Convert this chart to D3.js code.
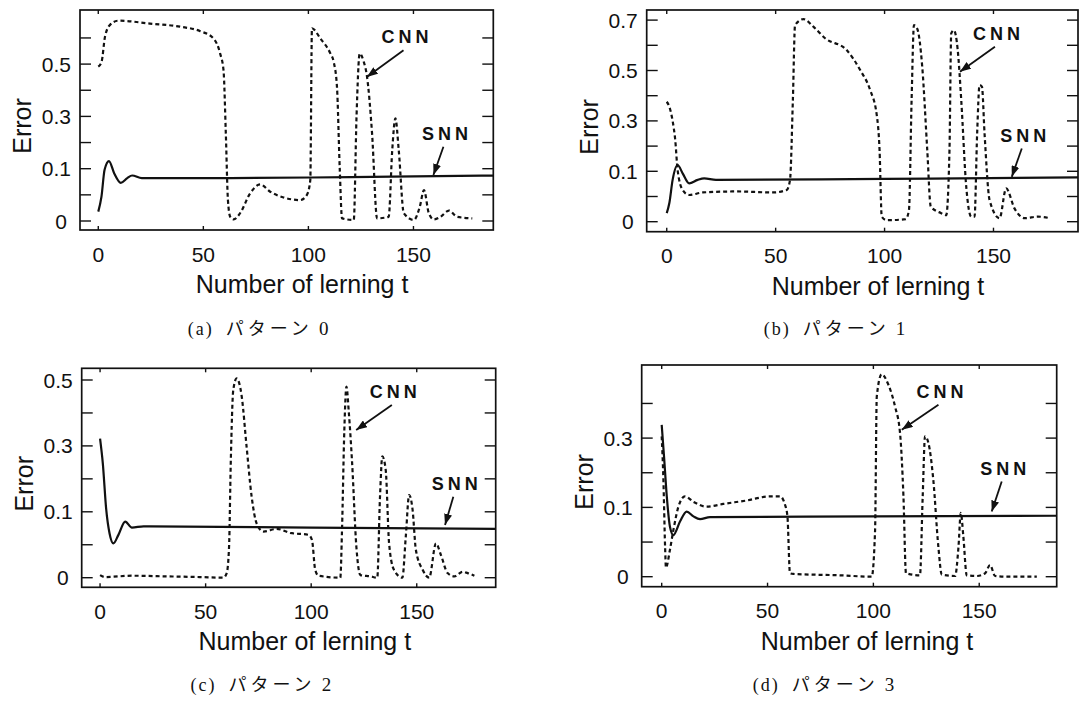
<!DOCTYPE html>
<html>
<head>
<meta charset="utf-8">
<script src="https://cdn.jsdelivr.net/npm/d3@7"></script>
<style>
  html, body { margin: 0; padding: 0; background: #fff; }
  svg { display: block; }
</style>
</head>
<body>
<svg id="chart" width="1081" height="701"></svg>
<script>
// Learning error vs. number of learning steps t for four patterns:
// conventional network (CNN, dotted) and proposed network (SNN, solid).

const xTicks = [0, 50, 100, 150];
// the error axis is evenly spaced in these break values
const yBreaks = [0, 0.1, 0.3, 0.5, 0.7];

const yLabelsA = [0, 0.1, 0.3, 0.5];
const yLabelsB = [0, 0.1, 0.3, 0.5, 0.7];
const yLabelsC = [0, 0.1, 0.3, 0.5];
const yLabelsD = [0, 0.1, 0.3];
const yMinorAB = [0.05, 0.2, 0.4, 0.6];
const yMinorCD = [0.05, 0.2, 0.4];

// pattern 0
const cnnA = [[0,0.49],[1.6,0.51],[3.2,0.605],[5.6,0.65],[9.5,0.666],[24.6,0.655],[38.9,0.643],[48.5,0.626],
  [54.8,0.598],[58,0.54],[59.6,0.477],[60.7,0.235],[61.7,0.04],[62.8,0.008],[64.4,0.003],[67.5,0.015],
  [72.3,0.053],[77.1,0.07],[81.8,0.056],[88.2,0.045],[96.1,0.04],[99.3,0.05],[100.9,0.078],[101.7,0.637],
  [105.7,0.598],[110.5,0.54],[112,0.51],[113.6,0.413],[114.9,0.104],[116,0.005],[121.6,0.002],[122.9,0.298],
  [124.4,0.54],[126.3,0.51],[127.9,0.452],[130.3,0.235],[132.7,0.005],[138.2,0.008],[139.9,0.171],
  [141.4,0.293],[143,0.171],[145.4,0.015],[150.2,0.002],[153,0.027],[155,0.059],[157.3,0.015],[159.7,0.003],
  [162.9,0.008],[166.9,0.02],[170.8,0.008],[178,0.005]];
const snnA = [[0,0.018],[1.5,0.046],[3,0.098],[5.1,0.129],[7.6,0.091],[10.7,0.073],[13.8,0.082],[16.1,0.087],
  [20.7,0.082],[60,0.082],[120,0.084],[190,0.087]];

// pattern 1
const cnnB = [[0,0.376],[1.2,0.356],[2.7,0.3],[3.9,0.224],[5,0.104],[7.3,0.063],[10.3,0.053],[16.5,0.058],
  [31.7,0.06],[49,0.058],[55.1,0.063],[56.6,0.083],[57.9,0.382],[58.9,0.68],[62.8,0.704],[67.3,0.674],
  [72.7,0.628],[82.7,0.58],[88.8,0.502],[93.4,0.422],[96.4,0.324],[97.7,0.184],[98.7,0.01],[101,0.003],
  [109.7,0.005],[111.2,0.023],[112.4,0.38],[113.5,0.68],[115,0.666],[117.3,0.514],[119.6,0.184],[121.2,0.03],
  [126,0.017],[128.3,0.013],[129.8,0.184],[130.6,0.647],[131.8,0.66],[133.6,0.58],[135.2,0.382],[137.5,0.069],
  [139.8,0.01],[141.3,0.01],[142.5,0.25],[143.6,0.442],[144.7,0.436],[145.9,0.25],[148.2,0.043],[152.8,0.007],
  [155.8,0.066],[159.7,0.026],[164.3,0.007],[170.4,0.01],[176,0.007]];
const snnB = [[0,0.017],[1.2,0.037],[2.7,0.083],[5,0.125],[7.3,0.096],[10.3,0.076],[14.2,0.083],[17.2,0.086],
  [22.6,0.083],[100,0.085],[190,0.088]];

// pattern 2
const cnnC = [[0,0.004],[2.3,0.001],[15.1,0.003],[31.3,0.002],[47.2,0.001],[58.4,0],[60,0.007],[61.1,0.047],
  [61.9,0.247],[63.1,0.47],[64.7,0.505],[67.1,0.45],[69.4,0.298],[71.8,0.146],[74.2,0.082],[77.4,0.07],
  [83.7,0.074],[90,0.068],[98.8,0.065],[100.4,0.057],[101.9,0.012],[103.5,0.003],[113.8,0],[114.6,0.072],
  [115.7,0.348],[116.7,0.48],[117.8,0.404],[119.4,0.247],[121.4,0.047],[123.3,0.004],[128.1,0.002],[131.3,0],
  [132.6,0.146],[133.7,0.268],[135.3,0.227],[136.9,0.052],[139.2,0.012],[143.2,0],[144.8,0.062],[146.4,0.151],
  [148,0.108],[149.6,0.042],[152.8,0.012],[155.9,0],[159.1,0.052],[161.5,0.034],[164.6,0.007],[167.8,0.002],
  [171.8,0.009],[174.1,0.007],[177.3,0.003]];
const snnC = [[0,0.322],[1.3,0.247],[2.9,0.108],[4.5,0.067],[6.3,0.052],[8.7,0.065],[11.9,0.085],[15.1,0.076],
  [20.6,0.078],[100,0.076],[190,0.074]];

// pattern 3
const cnnD = [[0,0.305],[0.8,0.18],[1.6,0.043],[2,0.013],[3.9,0.039],[5.5,0.067],[7.9,0.102],[11,0.132],
  [15,0.116],[21.3,0.102],[29.1,0.11],[40.2,0.12],[51.2,0.132],[55.9,0.132],[58.3,0.107],[59.4,0.087],
  [60.6,0.005],[62.2,0.004],[84.3,0.002],[99.2,0],[100.8,0.067],[101.6,0.42],[103.9,0.484],[107.1,0.454],
  [110.2,0.392],[112.6,0.314],[114.2,0.132],[115.4,0.005],[122,0.002],[123.3,0.132],[124.4,0.305],
  [126,0.286],[128.3,0.18],[130.7,0.043],[132.3,0.003],[138.6,0.001],[140.2,0.043],[141.3,0.092],
  [142.5,0.058],[144.1,0.002],[148.8,0.001],[152.8,0.005],[155.1,0.017],[157.5,0.001],[163,0],[177.2,0]];
const snnD = [[0,0.338],[1.1,0.247],[2.4,0.132],[3.9,0.072],[5.5,0.06],[8.7,0.08],[11.8,0.094],[15,0.087],
  [18.1,0.083],[22.8,0.086],[100,0.087],[190,0.088]];

// arrow callouts: tip in data units, tail offset in px
const notesA = [{label: "CNN", tip: [127.8, 0.451], tail: [36.7, -26.7]},
                {label: "SNN", tip: [159.5, 0.088], tail: [10, -28.3]}];
const notesB = [{label: "CNN", tip: [134.6, 0.495], tail: [35, -25]},
                {label: "SNN", tip: [158.4, 0.089], tail: [10, -28.3]}];
const notesC = [{label: "CNN", tip: [121.3, 0.348], tail: [35.7, -25]},
                {label: "SNN", tip: [163.4, 0.080], tail: [8.3, -28.3]}];
const notesD = [{label: "CNN", tip: [113.4, 0.324], tail: [36.7, -25]},
                {label: "SNN", tip: [155.9, 0.094], tail: [10, -30]}];

const panels = [
  {caption: ["(a)", "パターン", "0"], cnn: cnnA, snn: snnA, yLabels: yLabelsA, yMinor: yMinorAB, notes: notesA,
   xDomain: [-8.7, 188.0], box: {left: 80, right: 493.3, top: 10, bottom: 230}, y0: 221, step: 52.3, capY: 335},
  {caption: ["(b)", "パターン", "1"], cnn: cnnB, snn: snnB, yLabels: yLabelsB, yMinor: yMinorAB, notes: notesB,
   xDomain: [-9.2, 188.8], box: {left: 646.7, right: 1078, top: 10, bottom: 231.7}, y0: 221.7, step: 50.4, capY: 335},
  {caption: ["(c)", "パターン", "2"], cnn: cnnC, snn: snnC, yLabels: yLabelsC, yMinor: yMinorCD, notes: notesC,
   xDomain: [-8.7, 187.4], box: {left: 81.7, right: 495.7, top: 368.3, bottom: 587.3}, y0: 577.7, step: 65.9, capY: 691},
  {caption: ["(d)", "パターン", "3"], cnn: cnnD, snn: snnD, yLabels: yLabelsD, yMinor: yMinorCD, notes: notesD,
   xDomain: [-9.45, 186.6], box: {left: 641.7, right: 1056.7, top: 365, bottom: 586.7}, y0: 576.7, step: 69.3, capY: 691}
];

const INK = "#111";
const SANS = '"Liberation Sans", Arial, Helvetica, sans-serif';
const SERIF = '"Liberation Serif", "DejaVu Serif", serif';
const CJK = '"Noto Sans CJK JP", sans-serif';

const svg = d3.select("#chart");
const defs = svg.append("defs");

defs.append("marker")
  .attr("id", "arrowhead")
  .attr("viewBox", "0 0 11 8")
  .attr("refX", 11).attr("refY", 4)
  .attr("markerWidth", 11).attr("markerHeight", 8)
  .attr("markerUnits", "userSpaceOnUse")
  .attr("orient", "auto")
  .append("path").attr("d", "M0,0L11,4L0,8Z").attr("fill", INK);

const fmt = d => (d === 0 ? "0" : d3.format(".1f")(d));

panels.forEach((p, i) => {
  const b = p.box;
  const x = d3.scaleLinear().domain(p.xDomain).range([b.left, b.right]);
  const y = d3.scaleLinear().domain(yBreaks).range(yBreaks.map((_, k) => p.y0 - k * p.step));
  const g = svg.append("g");

  defs.append("clipPath").attr("id", "plot" + i)
    .append("rect").attr("x", b.left).attr("y", b.top)
    .attr("width", b.right - b.left).attr("height", b.bottom - b.top);

  // inward y tick marks on both sides
  const yAll = p.yLabels.concat(p.yMinor);
  g.selectAll(null).data(yAll).join("line")
    .attr("x1", b.left).attr("x2", b.left + 11)
    .attr("y1", d => y(d)).attr("y2", d => y(d))
    .attr("stroke", INK).attr("stroke-width", 1.4);
  g.selectAll(null).data(yAll).join("line")
    .attr("x1", b.right - 11).attr("x2", b.right)
    .attr("y1", d => y(d)).attr("y2", d => y(d))
    .attr("stroke", INK).attr("stroke-width", 1.4);
  g.selectAll(null).data(p.yLabels).join("text")
    .attr("x", b.left - 9).attr("y", d => y(d))
    .attr("dx", d => (d === 0 ? -4 : 0)).attr("dy", "0.36em")
    .attr("text-anchor", "end").attr("fill", INK)
    .style("font-family", SANS).style("font-size", "21px")
    .text(fmt);

  // short inward x tick marks at top and bottom, labels below
  g.selectAll(null).data(xTicks).join("line")
    .attr("x1", d => x(d)).attr("x2", d => x(d))
    .attr("y1", b.bottom).attr("y2", b.bottom - 4)
    .attr("stroke", INK).attr("stroke-width", 1.4);
  g.selectAll(null).data(xTicks).join("line")
    .attr("x1", d => x(d)).attr("x2", d => x(d))
    .attr("y1", b.top).attr("y2", b.top + 4)
    .attr("stroke", INK).attr("stroke-width", 1.4);
  g.selectAll(null).data(xTicks).join("text")
    .attr("x", d => x(d)).attr("y", b.bottom + 31.5)
    .attr("text-anchor", "middle").attr("fill", INK)
    .style("font-family", SANS).style("font-size", "21px")
    .text(d => d);

  // frame
  g.append("rect")
    .attr("x", b.left).attr("y", b.top)
    .attr("width", b.right - b.left).attr("height", b.bottom - b.top)
    .attr("fill", "none").attr("stroke", INK).attr("stroke-width", 1.7);

  const line = d3.line().x(d => x(d[0])).y(d => y(d[1])).curve(d3.curveMonotoneX);
  const plot = g.append("g").attr("clip-path", `url(#plot${i})`);

  plot.append("path").datum(p.snn)
    .attr("d", line).attr("fill", "none")
    .attr("stroke", INK).attr("stroke-width", 2.2).attr("stroke-linejoin", "round");
  plot.append("path").datum(p.cnn)
    .attr("d", line).attr("fill", "none")
    .attr("stroke", INK).attr("stroke-width", 2.2).attr("stroke-dasharray", "4,3");

  // callouts
  p.notes.forEach(n => {
    const tx = x(n.tip[0]), ty = y(n.tip[1]);
    const sx = tx + n.tail[0], sy = ty + n.tail[1];
    g.append("line")
      .attr("x1", sx).attr("y1", sy).attr("x2", tx).attr("y2", ty)
      .attr("stroke", INK).attr("stroke-width", 1.8)
      .attr("marker-end", "url(#arrowhead)");
    g.append("text")
      .attr("x", sx + 3.5).attr("y", sy - 7)
      .attr("text-anchor", "middle")
      .attr("fill", INK)
      .style("font-family", SANS).style("font-weight", "bold")
      .style("font-size", "18px").style("letter-spacing", "4px")
      .text(n.label);
  });

  // axis titles
  g.append("text")
    .attr("transform", `translate(${b.left - 49},${(b.top + b.bottom) / 2 + 6}) rotate(-90)`)
    .attr("text-anchor", "middle").attr("fill", INK)
    .style("font-family", SANS).style("font-size", "25px")
    .text("Error");
  const xTitle = g.append("text")
    .attr("x", x(97)).attr("y", b.bottom + 63)
    .attr("text-anchor", "middle").attr("fill", INK)
    .style("font-family", SANS).style("font-size", "25px")
    .text("Number of lerning t");

  // sub-figure caption, starting just left of the axis title
  const titleStart = xTitle.node().getBBox().x;
  const cap = g.append("text").attr("x", titleStart - 8).attr("y", p.capY).attr("fill", INK);
  cap.append("tspan").text(p.caption[0])
    .style("font-family", SERIF).style("font-size", "18px").style("letter-spacing", "2px");
  cap.append("tspan").attr("dx", 12).text(p.caption[1])
    .style("font-family", CJK).style("font-size", "18px").style("letter-spacing", "4px");
  cap.append("tspan").attr("dx", 6).text(p.caption[2])
    .style("font-family", SERIF).style("font-size", "19px");
});
</script>
</body>
</html>
